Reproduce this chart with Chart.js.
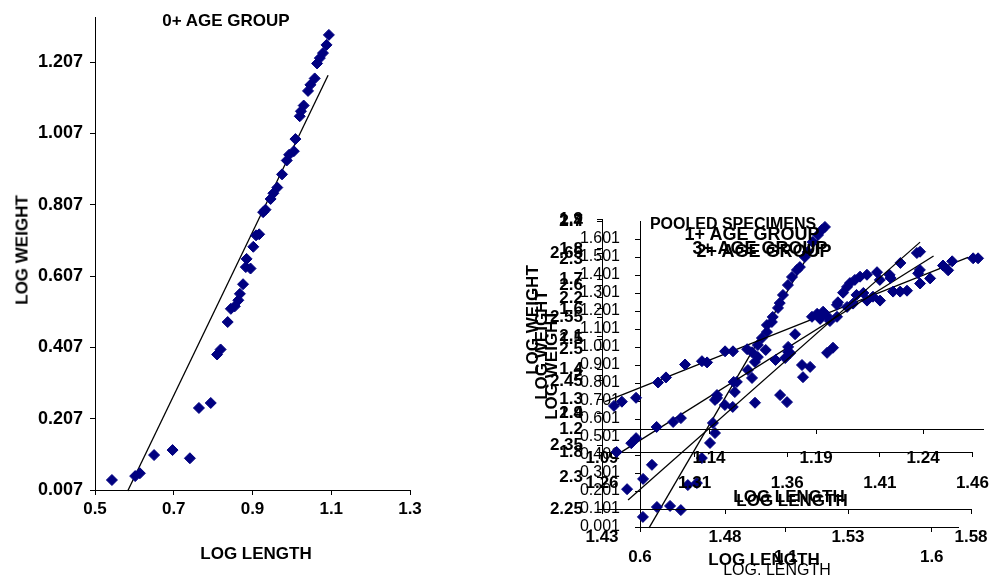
<!DOCTYPE html>
<html lang="en">
<head>
<meta charset="UTF-8">
<title>Length-weight relationship</title>
<script src="https://cdn.jsdelivr.net/npm/chart.js"></script>
<style>
  body { margin: 0; background: #fff; font-family: Arial, "Liberation Sans", sans-serif; }
  #wrap { position: relative; width: 1005px; height: 578px; overflow: hidden; }
  #wrap canvas { position: absolute; left: 0; top: 0; }
  .lbl { position: absolute; white-space: nowrap; font-weight: bold; font-size: 17px; line-height: 1; color: #000; transform: translate(-50%, -50%); }
  .rot { transform: translate(-50%, -50%) rotate(-90deg); }
  .thin { font-weight: normal; }
</style>
</head>
<body>
<div id="wrap">
  <canvas id="age0" width="1005" height="578"></canvas>
  <canvas id="pooled" width="1005" height="578"></canvas>
  <canvas id="age1" width="1005" height="578"></canvas>
  <canvas id="age2" width="1005" height="578"></canvas>
  <canvas id="age3" width="1005" height="578"></canvas>

  <div class="lbl" style="left:226px;top:20px">0+ AGE GROUP</div>
  <div class="lbl rot" style="left:22px;top:250px">LOG WEIGHT</div>
  <div class="lbl" style="left:256px;top:553px">LOG LENGTH</div>

  <div class="lbl" style="left:733px;top:224px;font-size:16px">POOLED SPECIMENS</div>
  <div class="lbl" style="left:752px;top:234px;font-size:18px">1+ AGE GROUP</div>
  <div class="lbl" style="left:760px;top:248px;font-size:18px">3+ AGE GROUP</div>
  <div class="lbl" style="left:764px;top:251px;font-size:18px">2+ AGE GROUP</div>
  <div class="lbl rot" style="left:532px;top:320px">LOG WEIGHT</div>
  <div class="lbl rot" style="left:541px;top:345px">LOG WEIGHT</div>
  <div class="lbl rot" style="left:551px;top:365px">LOG WEIGHT</div>
  <div class="lbl" style="left:789px;top:496px">LOG LENGTH</div>
  <div class="lbl" style="left:792px;top:500px">LOG LENGTH</div>
  <div class="lbl" style="left:764px;top:559px">LOG LENGTH</div>
  <div class="lbl thin" style="left:777px;top:570px;font-size:16px">LOG. LENGTH</div>
</div>

<script>
// 0+ age group
const age0Length = [0.543, 0.602, 0.614, 0.650, 0.697, 0.741, 0.764, 0.794, 0.810, 0.819, 0.837, 0.845, 0.855, 0.864, 0.868,
  0.876, 0.883, 0.885, 0.895, 0.902, 0.909, 0.917, 0.927, 0.933, 0.946, 0.953, 0.963, 0.975, 0.987, 0.993,
  1.005, 1.009, 1.020, 1.023, 1.030, 1.041, 1.047, 1.058, 1.064, 1.071, 1.079, 1.088, 1.094];
const age0Weight = [0.035, 0.046, 0.054, 0.105, 0.119, 0.096, 0.237, 0.251, 0.387, 0.401, 0.478, 0.515, 0.522, 0.539, 0.557,
  0.584, 0.632, 0.655, 0.628, 0.689, 0.721, 0.724, 0.786, 0.793, 0.823, 0.839, 0.855, 0.892, 0.931, 0.947,
  0.957, 0.991, 1.055, 1.069, 1.085, 1.126, 1.143, 1.161, 1.203, 1.218, 1.232, 1.255, 1.283];
const age0TrendLength = [0.583, 1.092];
const age0TrendWeight = [0.004, 1.170];
const age0LengthTicks = [0.5, 0.7, 0.9, 1.1, 1.3];
const age0WeightTicks = [0.007, 0.207, 0.407, 0.607, 0.807, 1.007, 1.207];

// pooled specimens
const pooledLength = [0.610, 0.658, 0.703, 0.740, 0.764, 0.795, 0.812, 0.840, 0.850, 0.857, 0.857, 0.864, 0.891, 0.918,
  0.925, 0.932, 0.970, 0.984, 0.994, 1.004, 1.004, 1.018, 1.035, 1.035, 1.052, 1.055, 1.073, 1.079, 1.090,
  1.107, 1.121, 1.138, 1.148, 1.165, 1.175, 1.192, 1.210, 1.223, 1.234];
const pooledWeight = [0.057, 0.112, 0.118, 0.095, 0.234, 0.245, 0.384, 0.468, 0.579, 0.523, 0.707, 0.718, 0.679, 0.668,
  0.751, 0.807, 0.873, 0.829, 0.918, 0.945, 1.012, 1.051, 1.084, 1.123, 1.140, 1.168, 1.218, 1.245, 1.290,
  1.345, 1.390, 1.429, 1.445, 1.501, 1.529, 1.584, 1.623, 1.651, 1.668];
const pooledTrendLength = [0.631, 1.234];
const pooledTrendWeight = [-0.004, 1.668];
const pooledLengthTicks = [0.6, 1.1, 1.6];
const pooledWeightTicks = [0.001, 0.101, 0.201, 0.301, 0.401, 0.501, 0.601, 0.701, 0.801, 0.901,
  1.001, 1.101, 1.201, 1.301, 1.401, 1.501, 1.601];

// 1+ age group
const age1Length = [1.0956, 1.0993, 1.1059, 1.1162, 1.1199, 1.1288, 1.1367, 1.1391, 1.1475, 1.1512, 1.1578, 1.1601,
  1.1802, 1.1881, 1.1905, 1.1919, 1.1933, 1.1951, 1.1965, 1.1998, 1.2045, 1.2073, 1.2138, 1.2166, 1.2199,
  1.2260, 1.2293, 1.2325, 1.2377, 1.2386, 1.2433, 1.2493, 1.2517, 1.2536, 1.2634, 1.2657];
const age1Weight = [1.277, 1.291, 1.304, 1.355, 1.372, 1.415, 1.426, 1.422, 1.459, 1.459, 1.466, 1.456,
  1.516, 1.574, 1.584, 1.567, 1.591, 1.577, 1.560, 1.574, 1.607, 1.618, 1.628, 1.641, 1.628,
  1.658, 1.658, 1.661, 1.719, 1.685, 1.702, 1.745, 1.729, 1.759, 1.769, 1.769];
const age1TrendLength = [1.0914, 1.261];
const age1TrendWeight = [1.291, 1.772];
const age1LengthTicks = [1.09, 1.14, 1.19, 1.24];
const age1WeightTicks = [1.2, 1.3, 1.4, 1.5, 1.6, 1.7, 1.8, 1.9];

// 2+ age group
const age2Length = [1.2679, 1.2758, 1.2784, 1.2895, 1.2984, 1.3026, 1.3221, 1.3311, 1.3484, 1.3537, 1.3589,
  1.3605, 1.3605, 1.3616, 1.3974, 1.4011, 1.4100, 1.4153, 1.4158, 1.4211, 1.4316];
const age2Weight = [1.800, 1.823, 1.836, 1.865, 1.878, 1.888, 1.948, 1.982, 2.065, 2.039, 2.044,
  2.060, 2.073, 2.057, 2.208, 2.213, 2.247, 2.260, 2.252, 2.291, 2.273];
const age2TrendLength = [1.2695, 1.439];
const age2TrendWeight = [1.797, 2.309];
const age2LengthTicks = [1.26, 1.31, 1.36, 1.41, 1.46];
const age2WeightTicks = [1.8, 1.9, 2.0, 2.1, 2.2, 2.3, 2.4];

// 3+ age group
const age3Length = [1.4402, 1.4467, 1.4503, 1.4922, 1.5052, 1.5024, 1.5117, 1.5113, 1.5146, 1.5215, 1.5239,
  1.5255, 1.5259, 1.5280, 1.5296, 1.5308, 1.5328, 1.5349, 1.5377, 1.5418, 1.5580, 1.5593];
const age3Weight = [2.281, 2.297, 2.319, 2.416, 2.417, 2.428, 2.456, 2.475, 2.472, 2.494, 2.502,
  2.569, 2.573, 2.588, 2.597, 2.603, 2.608, 2.613, 2.616, 2.620, 2.650, 2.652];
const age3TrendLength = [1.4406, 1.5593];
const age3TrendWeight = [2.264, 2.667];
const age3LengthTicks = [1.43, 1.48, 1.53, 1.58];
const age3WeightTicks = [2.25, 2.3, 2.35, 2.4, 2.45, 2.5, 2.55, 2.6, 2.65, 2.7];

const FONT = 'Arial, "Liberation Sans", sans-serif';
const bold = size => ({ family: FONT, size: size, weight: 'bold' });
const plain = size => ({ family: FONT, size: size, weight: 'normal' });

function pairs(xs, ys) {
  return xs.map((x, i) => ({ x: x, y: ys[i] }));
}

function fmt(v) {
  return String(Math.round(v * 1000) / 1000);
}

function axisLines() {
  return {
    grid: { drawOnChartArea: false, drawTicks: true, tickLength: 5, color: '#000', lineWidth: 1 },
    border: { display: true, color: '#000', width: 1 }
  };
}

// p.area = plot area in page pixels; xH = height kept for the x tick labels
function drawPanel(id, p) {
  new Chart(document.getElementById(id), {
    type: 'scatter',
    data: {
      datasets: [
        {
          data: pairs(p.xs, p.ys),
          pointStyle: 'rectRot', pointRadius: 5.5, pointHoverRadius: 5.5,
          backgroundColor: '#000080', borderColor: '#000080', borderWidth: 1,
          clip: false
        },
        {
          data: pairs(p.tx, p.ty),
          showLine: true, pointRadius: 0,
          borderColor: '#000', borderWidth: 1.3,
          clip: false
        }
      ]
    },
    options: {
      responsive: false,
      animation: false,
      events: [],
      layout: {
        padding: { left: 0, top: p.area.top, right: 1005 - p.area.right, bottom: 578 - p.area.bottom - p.xH }
      },
      plugins: { legend: { display: false }, tooltip: { enabled: false } },
      scales: {
        x: Object.assign({
          type: 'linear', position: 'bottom', min: p.xMin, max: p.xMax,
          afterFit: s => { s.height = p.xH; },
          afterBuildTicks: s => { s.ticks = p.xTicks.map(v => ({ value: v })); },
          ticks: { padding: p.xPad, font: p.xFont, color: '#000', maxRotation: 0, autoSkip: false, callback: v => fmt(v) }
        }, axisLines()),
        y: Object.assign({
          type: 'linear', position: 'left', min: p.yMin, max: p.yMax,
          afterFit: s => { s.width = p.area.left; },
          afterBuildTicks: s => { s.ticks = p.yTicks.map(v => ({ value: v })); },
          ticks: { padding: p.yPad, font: p.yFont, color: '#000', autoSkip: false, callback: v => fmt(v) }
        }, axisLines())
      }
    }
  });
}

drawPanel('age0', {
  area: { left: 95, top: 10, right: 410, bottom: 490 }, xH: 50,
  xs: age0Length, ys: age0Weight, tx: age0TrendLength, ty: age0TrendWeight,
  xMin: 0.5, xMax: 1.3, xTicks: age0LengthTicks, xFont: bold(17), xPad: 4,
  yMin: 0.007, yMax: 1.331, yTicks: age0WeightTicks, yFont: bold(18), yPad: 7
});

drawPanel('pooled', {
  area: { left: 640, top: 221, right: 958, bottom: 527 }, xH: 45,
  xs: pooledLength, ys: pooledWeight, tx: pooledTrendLength, ty: pooledTrendWeight,
  xMin: 0.6, xMax: 1.69, xTicks: pooledLengthTicks, xFont: bold(17), xPad: 15,
  yMin: 0.001, yMax: 1.701, yTicks: pooledWeightTicks, yFont: plain(16), yPad: 15
});

drawPanel('age1', {
  area: { left: 602, top: 219, right: 983, bottom: 429 }, xH: 50,
  xs: age1Length, ys: age1Weight, tx: age1TrendLength, ty: age1TrendWeight,
  xMin: 1.09, xMax: 1.268, xTicks: age1LengthTicks, xFont: bold(17), xPad: 14,
  yMin: 1.2, yMax: 1.9, yTicks: age1WeightTicks, yFont: bold(17), yPad: 14
});

drawPanel('age2', {
  area: { left: 602, top: 221, right: 982, bottom: 452 }, xH: 50,
  xs: age2Length, ys: age2Weight, tx: age2TrendLength, ty: age2TrendWeight,
  xMin: 1.26, xMax: 1.46, xTicks: age2LengthTicks, xFont: bold(17), xPad: 16,
  yMin: 1.8, yMax: 2.4, yTicks: age2WeightTicks, yFont: bold(17), yPad: 14
});

drawPanel('age3', {
  area: { left: 602, top: 221, right: 971, bottom: 509 }, xH: 50,
  xs: age3Length, ys: age3Weight, tx: age3TrendLength, ty: age3TrendWeight,
  xMin: 1.43, xMax: 1.58, xTicks: age3LengthTicks, xFont: bold(17), xPad: 13,
  yMin: 2.25, yMax: 2.7, yTicks: age3WeightTicks, yFont: bold(17), yPad: 14
});
</script>
</body>
</html>
